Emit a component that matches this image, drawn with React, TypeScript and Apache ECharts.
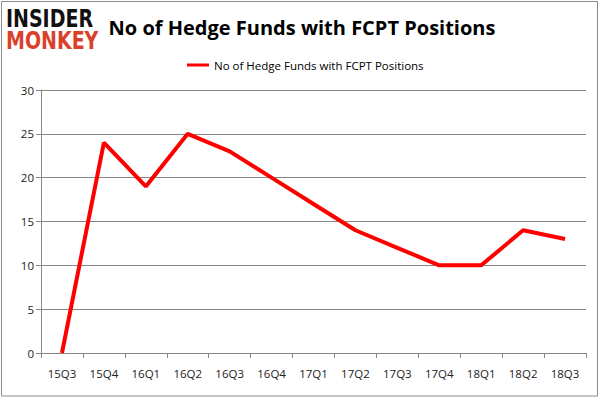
import React, { useEffect, useRef } from "react";
import * as echarts from "echarts";

const categories = ["15Q3", "15Q4", "16Q1", "16Q2", "16Q3", "16Q4", "17Q1", "17Q2", "17Q3", "17Q4", "18Q1", "18Q2", "18Q3"];
const values = [0, 24, 19, 25, 23, 20, 17, 14, 12, 10, 10, 14, 13];
const seriesName = "No of Hedge Funds with FCPT Positions";
const titleText = "No of Hedge Funds with FCPT Positions";

export default function App() {
  const ref = useRef<HTMLDivElement>(null);
  useEffect(() => {
    if (!ref.current) return;
    const chart = echarts.init(ref.current, null, { renderer: "svg" });
    const font = "'Open Sans', 'Noto Sans', sans-serif";
    chart.setOption({
      animation: false,
      backgroundColor: "#ffffff",
      title: {
        text: titleText,
        left: 297,
        textAlign: "center",
        top: 12,
        textStyle: { fontFamily: font, fontSize: 20, fontWeight: "bold", color: "#000" },
      },
      legend: {
        data: [seriesName],
        top: 54,
        left: 182,
        itemWidth: 22,
        itemHeight: 3,
        itemGap: 6,
        icon: "rect",
        textStyle: { fontFamily: font, fontSize: 11.5, color: "#000" },
      },
      grid: { left: 41, right: 16, top: 90, bottom: 45, containLabel: false },
      xAxis: {
        type: "category",
        data: categories,
        boundaryGap: true,
        axisLine: { lineStyle: { color: "#868686", width: 1 } },
        axisTick: { show: true, length: 5, alignWithLabel: false, lineStyle: { color: "#868686" } },
        axisLabel: { fontFamily: font, fontSize: 11.5, color: "#222", margin: 14 },
      },
      yAxis: {
        type: "value",
        min: 0,
        max: 30,
        interval: 5,
        axisLine: { show: true, lineStyle: { color: "#868686", width: 1 } },
        axisTick: { show: true, length: 5, lineStyle: { color: "#868686" } },
        axisLabel: { fontFamily: font, fontSize: 11.5, color: "#222", margin: 7 },
        splitLine: { show: true, lineStyle: { color: "#868686", width: 1 } },
      },
      series: [
        {
          name: seriesName,
          type: "line",
          data: values,
          showSymbol: false,
          symbol: "none",
          lineStyle: { color: "#ff0000", width: 4 },
          itemStyle: { color: "#ff0000" },
        },
      ],
      graphic: [
        {
          type: "rect",
          shape: { x: 1.5, y: 1.5, width: 596, height: 394.5 },
          style: { fill: "none", stroke: "#8c8c8c", lineWidth: 1 },
          silent: true,
        },
        {
          type: "text",
          x: 6,
          y: 19,
          scaleY: 1.3,
          style: {
            text: "INSIDER",
            fontFamily: "'DejaVu Sans', sans-serif",
            fontWeight: 900,
            fontSize: 19,
            lineHeight: 14,
            verticalAlign: "middle",
            fill: "#111",
            letterSpacing: 0.3,
          },
        },
        {
          type: "text",
          x: 6,
          y: 41,
          scaleY: 1.3,
          style: {
            text: "MONKEY",
            fontFamily: "'DejaVu Sans', sans-serif",
            fontWeight: 900,
            fontSize: 19,
            lineHeight: 14,
            verticalAlign: "middle",
            fill: "#d9412b",
            letterSpacing: 2,
          },
        },
      ],
    });
    return () => chart.dispose();
  }, []);
  return <div ref={ref} style={{ position: "fixed", left: 0, top: 0, width: 602, height: 398 }} />;
}
